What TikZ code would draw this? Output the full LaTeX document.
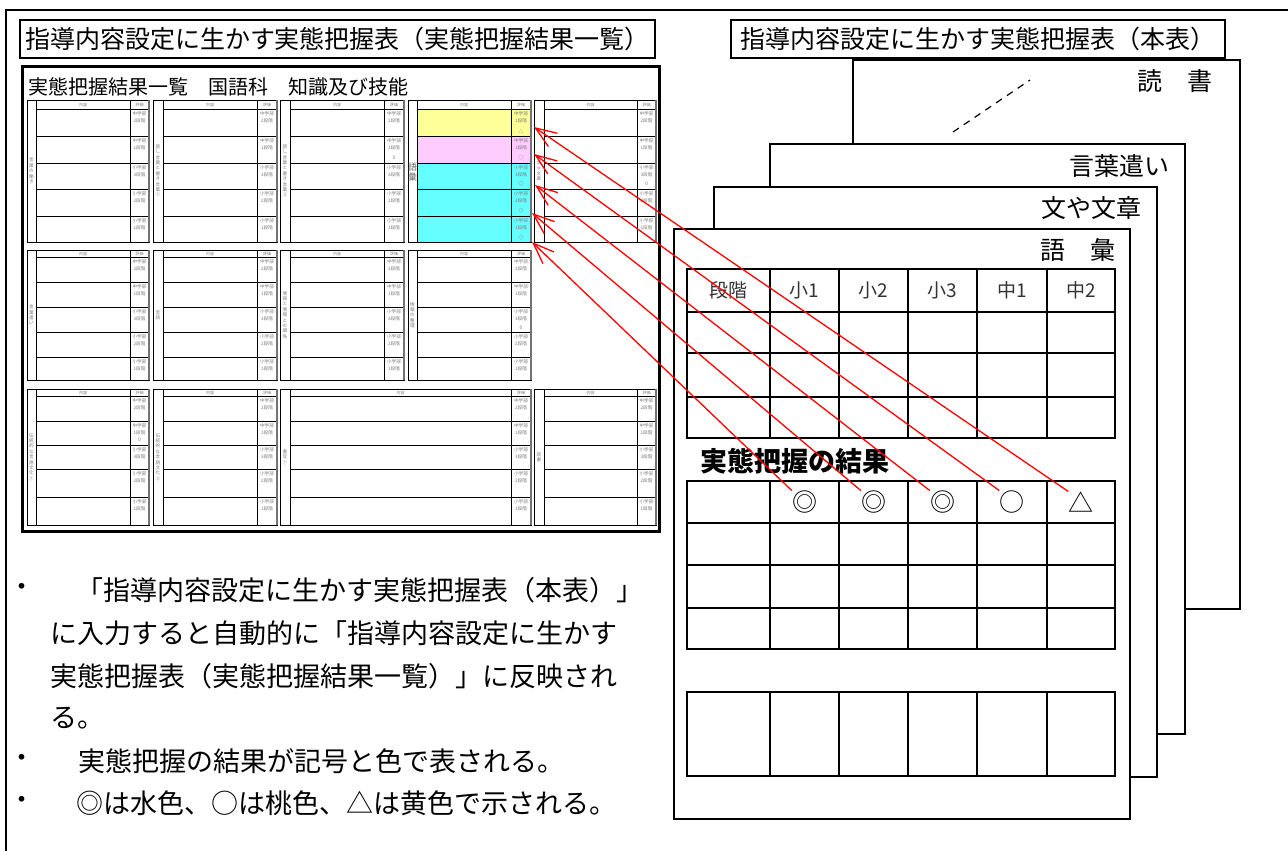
\documentclass[tikz,border=0pt]{standalone}
\usepackage{fontspec}
\setmainfont{Noto Sans CJK JP}
\usetikzlibrary{arrows.meta}
\definecolor{cyanc}{HTML}{66FFFF}
\definecolor{pinkc}{HTML}{FFCCFF}
\definecolor{yelc}{HTML}{FFFF99}
\definecolor{tgray}{HTML}{7A7A7A}
\tikzset{
  hbox/.style={draw, line width=1.8pt, inner sep=0pt, font=\fontsize{25}{30}\selectfont},
  sheet/.style={draw, line width=2pt, fill=white, inner sep=0pt, anchor=north west},
  stitle/.style={anchor=east, inner sep=0pt, font=\fontsize{25}{30}\selectfont},
  tline/.style={line width=2pt},
  thead/.style={inner sep=0pt, font=\fontsize{19}{22}\selectfont, text=black!80},
  symb/.style={inner sep=0pt, font=\fontsize{25}{30}\selectfont},
  redarrow/.style={draw=red, line width=1.3pt, -{Straight Barb[length=21pt,width=16pt]}},
  body/.style={anchor=west, inner sep=0pt, font=\fontsize{27}{32}\selectfont},
  bullet/.style={inner sep=0pt, font=\fontsize{27}{32}\selectfont},
  gbox/.style={draw=black, line width=0.9pt},
  gthick/.style={draw=black!55, line width=1.8pt},
  rowline/.style={draw=black, line width=0.8pt},
  tiny/.style={inner sep=0pt, text=tgray, font=\fontsize{4}{5}\selectfont, align=center},
  evt/.style={inner sep=0pt, text=tgray, font=\fontsize{4.6}{7.5}\selectfont, align=center, anchor=north},
  vlab/.style={inner sep=0pt, text=tgray, font=\fontsize{4.6}{5.4}\selectfont, align=center},
  mark0/.style={inner sep=0pt, text=tgray, font=\fontsize{5}{6}\selectfont},
}
\newcommand\setband[7]{\def\bT{#1}\def\bH{#2}\def\bA{#3}\def\bB{#4}\def\bC{#5}\def\bD{#6}\def\bE{#7}}
% \grp{id}{x0}{xl}{xe}{x1}{label}
\newcommand\grp[6]{%
  \draw[gbox] (#2,\bT) rectangle (#5,\bE);
  \draw[gbox] (#3,\bT) -- (#3,\bE);
  \draw[gbox] (#4,\bT) -- (#4,\bE);
  \draw[gbox] (#3,\bH) -- (#5,\bH);
  \foreach \yy in {\bA,\bB,\bC,\bD} {\draw[rowline] (#3,\yy) -- (#5,\yy);}
  \draw[gthick] (#5,\bT) -- (#5,\bE);
  \node[tiny] (#1h1) at ({(#3+#4)/2},{(\bT+\bH)/2}) {内容};
  \node[tiny] (#1h2) at ({(#4+#5)/2},{(\bT+\bH)/2}) {評価};
  \node[vlab] (#1lab) at ({(#2+#3)/2},{(\bT+\bE)/2}) {#6};
  \node[evt] (#1e1) at ({(#4+#5)/2},{\bH+2}) {中学部\\2段階};
  \node[evt] (#1e2) at ({(#4+#5)/2},{\bA+2}) {中学部\\1段階};
  \node[evt] (#1e3) at ({(#4+#5)/2},{\bB+2}) {小学部\\3段階};
  \node[evt] (#1e4) at ({(#4+#5)/2},{\bC+2}) {小学部\\2段階};
  \node[evt] (#1e5) at ({(#4+#5)/2},{\bD+2}) {小学部\\1段階};
}
\begin{document}
\begin{tikzpicture}[x=1pt,y=-1pt]
\useasboundingbox (0,0) rectangle (1288,851);
% outer frame
\draw[line width=2.5pt] (6,851) -- (6,10) -- (1288,10);
% header boxes
\node[hbox, minimum width=635pt, minimum height=38pt] (hl) at (337.5,39) {指導内容設定に生かす実態把握表（実態把握結果一覧）};
\node[hbox, minimum width=494pt, minimum height=38pt] (hr) at (978,39) {指導内容設定に生かす実態把握表（本表）};

% ---------- small overview table ----------
\draw[line width=3pt] (22,67) rectangle (659,531);
\node[anchor=west, inner sep=0pt, font=\fontsize{20}{24}\selectfont] (ttl) at (28,87) {実態把握結果一覧　国語科　知識及び技能};

% band 1
\setband{100}{109}{136}{163}{189}{216}{242}
\grp{a1}{27}{36}{130}{149}{言\\葉\\の\\働\\き}
\grp{a2}{153}{163}{257}{277}{話\\し\\言\\葉\\と\\書\\き\\言\\葉\\①}
\grp{a3}{280}{290}{384}{404}{話\\し\\言\\葉\\と\\書\\き\\言\\葉\\②}
\fill[yelc] (417,109) rectangle (531,136);
\fill[pinkc] (417,136) rectangle (531,163);
\fill[cyanc] (417,163) rectangle (531,242);
\grp{a4}{408}{417}{511}{531}{}
\node[inner sep=0pt, text=black!60, font=\fontsize{9}{10}\selectfont, align=center] (a4big) at (412.5,172) {語\\彙};
\grp{a5}{534}{544}{637}{656}{文\\や\\文\\章}
\node[mark0] (m1) at (521,131) {△};
\node[mark0] (m2) at (521,158) {○};
\node[mark0] (m3) at (521,184) {◎};
\node[mark0] (m4) at (521,211) {◎};
\node[mark0] (m5) at (521,238) {◎};
\node[mark0] (z1) at (394,158) {0};
\node[mark0] (z2) at (646.5,184) {0};

% band 2
\setband{250}{257}{282}{307}{332}{357}{380}
\grp{b1}{27}{36}{130}{149}{言\\葉\\遣\\い}
\grp{b2}{153}{163}{257}{277}{音\\読}
\grp{b3}{280}{290}{384}{404}{情\\報\\と\\情\\報\\と\\の\\関\\係}
\grp{b4}{408}{417}{511}{531}{情\\報\\の\\整\\理}
\node[mark0] (z3) at (521,328) {0};

% band 3
\setband{389}{396}{421}{445}{469}{497}{525}
\grp{c1}{27}{36}{130}{149}{伝\\統\\的\\な\\言\\語\\文\\化\\①}
\grp{c2}{153}{163}{257}{277}{伝\\統\\的\\な\\言\\語\\文\\化\\②}
\grp{c3}{280}{290}{511}{531}{書\\写\\①}
\grp{c4}{534}{544}{637}{656}{読\\書}
\node[mark0] (z4) at (139.5,440) {0};

% ---------- stacked sheets ----------
\node[sheet, minimum width=387pt, minimum height=549pt] (sh4) at (852,59) {};
\node[stitle] (st4) at (1213,81) {読　書};
\draw[dash pattern=on 7pt off 6pt, line width=1.2pt] (953,132) -- (1030,80);
\node[sheet, minimum width=415pt, minimum height=590pt] (sh3) at (769,143) {};
\node[stitle] (st3) at (1170,166) {言葉遣い};
\node[sheet, minimum width=443pt, minimum height=590pt] (sh2) at (713,186) {};
\node[stitle] (st2) at (1142,208) {文や文章};
\node[sheet, minimum width=456pt, minimum height=590pt] (sh1) at (673,228) {};
\node[stitle] (st1) at (1116,250) {語　彙};

% top table
\draw[tline] (687,269) rectangle (1115,438);
\foreach \yy in {312,353,397} {\draw[tline] (687,\yy) -- (1115,\yy);}
\foreach \xx in {770,839,908,977,1047} {\draw[tline] (\xx,269) -- (\xx,438);}
\node[thead] (c0) at (728.5,290.5) {段階};
\node[thead] (c1) at (804.5,290.5) {小1};
\node[thead] (c2) at (873.5,290.5) {小2};
\node[thead] (c3) at (942.5,290.5) {小3};
\node[thead] (c4) at (1012,290.5) {中1};
\node[thead] (c5) at (1081,290.5) {中2};

% result heading & table
\node[anchor=west, inner sep=0pt, font=\fontsize{27}{32}\selectfont\bfseries] (res) at (700,461) {実態把握の結果};
\draw[tline] (687,481) rectangle (1115,649);
\foreach \yy in {523,565,608} {\draw[tline] (687,\yy) -- (1115,\yy);}
\foreach \xx in {770,839,908,977,1047} {\draw[tline] (\xx,481) -- (\xx,649);}
\node[symb] (s1) at (804.5,502) {◎};
\node[symb] (s2) at (873.5,502) {◎};
\node[symb] (s3) at (942.5,502) {◎};
\node[symb] (s4) at (1012,502) {○};
\node[symb] (s5) at (1081,502) {△};

% last table
\draw[tline] (687,692) rectangle (1115,776);
\foreach \xx in {770,839,908,977,1047} {\draw[tline] (\xx,692) -- (\xx,776);}

% ---------- red arrows ----------
\coordinate (t1) at (532,242);
\coordinate (t2) at (532,213);
\coordinate (t3) at (535,185);
\coordinate (t4) at (534,154);
\coordinate (t5) at (534,127);
\draw[redarrow] (s1.north west) -- (t1);
\draw[redarrow] (s2.north west) -- (t2);
\draw[redarrow] (s3.north west) -- (t3);
\draw[redarrow] (s4.north west) -- (t4);
\draw[redarrow] (s5.north west) -- (t5);

% ---------- notes ----------
\node[bullet] (bu1) at (22,590) {・};
\node[body] (l1) at (76,590) {「指導内容設定に生かす実態把握表（本表）」};
\node[body] (l2) at (50,633) {に入力すると自動的に「指導内容設定に生かす};
\node[body] (l3) at (50,676) {実態把握表（実態把握結果一覧）」に反映され};
\node[body] (l4) at (50,718) {る。};
\node[bullet] (bu2) at (22,761) {・};
\node[body] (l5) at (78,761) {実態把握の結果が記号と色で表される。};
\node[bullet] (bu3) at (22,803) {・};
\node[body] (l6) at (76,803) {◎は水色、○は桃色、△は黄色で示される。};
\end{tikzpicture}
\end{document}
